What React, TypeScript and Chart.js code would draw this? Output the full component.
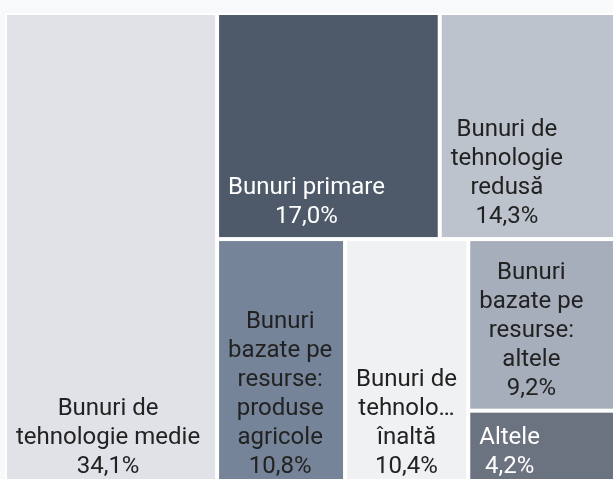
import React, { useEffect, useRef } from "react";
import { Chart, registerables } from "chart.js";

Chart.register(...registerables);

// ---- data ----
const categories = [
  "Bunuri de tehnologie medie",
  "Bunuri primare",
  "Bunuri de tehnologie redusă",
  "Bunuri bazate pe resurse: produse agricole",
  "Bunuri de tehnologie înaltă",
  "Bunuri bazate pe resurse: altele",
  "Altele",
];
const shares = [34.1, 17.0, 14.3, 10.8, 10.4, 9.2, 4.2];
const colors = ["#e0e2e7", "#4e5a6a", "#bcc3cc", "#768499", "#f0f1f3", "#a6aebb", "#6c7380"];
// nesting of cells (indices into categories); levels alternate column / row splits
type TNode = number | TNode[];
const groups: TNode = [0, [[1, 2], [3, 4, [5, 6]]]];

type Cell = { i: number; x0: number; y0: number; x1: number; y1: number };

function sumOf(n: TNode): number {
  return typeof n === "number" ? shares[n] : n.reduce((s: number, c) => s + sumOf(c), 0);
}

function layout(n: TNode, x0: number, y0: number, x1: number, y1: number, depth: number, out: Cell[]) {
  if (typeof n === "number") {
    out.push({ i: n, x0, y0, x1, y1 });
    return;
  }
  const total = sumOf(n);
  let pos = depth % 2 === 0 ? x0 : y0;
  for (const c of n) {
    const f = sumOf(c) / total;
    if (depth % 2 === 0) {
      const w = (x1 - x0) * f;
      layout(c, pos, y0, pos + w, y1, depth + 1, out);
      pos += w;
    } else {
      const h = (y1 - y0) * f;
      layout(c, x0, pos, x1, pos + h, depth + 1, out);
      pos += h;
    }
  }
}

const cells: Cell[] = [];
layout(groups, 0, 0, 100, 100, 0, cells);

function fmt(v: number) {
  return v.toFixed(1).replace(".", ",") + "%";
}

function brightness(hex: string) {
  const r = parseInt(hex.slice(1, 3), 16);
  const g = parseInt(hex.slice(3, 5), 16);
  const b = parseInt(hex.slice(5, 7), 16);
  return 0.299 * r + 0.587 * g + 0.114 * b;
}

function wrap(ctx: CanvasRenderingContext2D, text: string, maxW: number): string[] {
  const words = text.split(" ");
  const lines: string[] = [];
  let cur = "";
  const fitWord = (w: string) => {
    if (ctx.measureText(w).width <= maxW) return w;
    let s = w;
    while (s.length > 1 && ctx.measureText(s + "…").width > maxW) s = s.slice(0, -1);
    return s + "…";
  };
  for (const w of words) {
    const test = cur ? cur + " " + w : w;
    if (ctx.measureText(test).width <= maxW) {
      cur = test;
    } else {
      if (cur) lines.push(cur);
      cur = fitWord(w);
    }
  }
  if (cur) lines.push(cur);
  return lines;
}

const treemapPlugin = {
  id: "treemapCells",
  beforeDraw(chart: any) {
    const ctx = chart.ctx;
    ctx.save();
    ctx.fillStyle = "#f8f9fa";
    ctx.fillRect(0, 0, chart.width, chart.height);
    ctx.restore();
  },
  afterDatasetsDraw(chart: any) {
    const ctx: CanvasRenderingContext2D = chart.ctx;
    const xs = chart.scales.x;
    const ys = chart.scales.y;
    const gap = 2;
    ctx.save();
    for (const c of cells) {
      const L = xs.getPixelForValue(c.x0);
      const R = xs.getPixelForValue(c.x1);
      const T = ys.getPixelForValue(c.y0);
      const B = ys.getPixelForValue(c.y1);
      ctx.fillStyle = "#ffffff";
      ctx.fillRect(L, T, R - L, B - T);
      ctx.fillStyle = colors[c.i];
      ctx.fillRect(L + gap, T + gap, R - L - 2 * gap, B - T - 2 * gap);
    }
    ctx.font = "24px Roboto";
    ctx.textAlign = "center";
    ctx.textBaseline = "alphabetic";
    for (const c of cells) {
      const L = xs.getPixelForValue(c.x0) + gap;
      const R = xs.getPixelForValue(c.x1) - gap;
      const B = ys.getPixelForValue(c.y1) - gap;
      const avail = R - L - 16;
      const lines = wrap(ctx, categories[c.i], avail);
      lines.push(fmt(shares[c.i]));
      const blockW = Math.max(...lines.map((l) => ctx.measureText(l).width));
      const cx = L + 9 + blockW / 2;
      ctx.fillStyle = brightness(colors[c.i]) < 122 ? "#ffffff" : "#222222";
      const n = lines.length;
      lines.forEach((l, k) => {
        ctx.fillText(l, cx, B - 14 - (n - 1 - k) * 29);
      });
    }
    ctx.restore();
  },
};

export default function App() {
  const ref = useRef<HTMLCanvasElement | null>(null);
  useEffect(() => {
    if (!ref.current) return;
    const chart = new Chart(ref.current, {
      type: "scatter",
      data: {
        datasets: [
          {
            label: "Cote",
            data: cells.map((c) => ({ x: (c.x0 + c.x1) / 2, y: (c.y0 + c.y1) / 2 })),
            pointRadius: 0,
            pointHoverRadius: 0,
          },
        ],
      },
      options: {
        animation: false,
        responsive: true,
        maintainAspectRatio: false,
        layout: { padding: { left: 5, top: 13, right: 13, bottom: 13 } },
        scales: {
          x: { type: "linear", min: 0, max: 100, display: false },
          y: { type: "linear", min: 0, max: 100, reverse: true, display: false },
        },
        plugins: { legend: { display: false }, tooltip: { enabled: false }, title: { display: false } },
      },
      plugins: [treemapPlugin],
    });
    return () => chart.destroy();
  }, []);
  return (
    <div
      style={{
        position: "fixed",
        left: 0,
        top: 0,
        width: 613,
        height: 479,
        overflow: "hidden",
        background: "#f8f9fa",
      }}
    >
      <div style={{ position: "absolute", left: 0, top: 0, width: 640, height: 502 }}>
        <canvas ref={ref} />
      </div>
    </div>
  );
}
